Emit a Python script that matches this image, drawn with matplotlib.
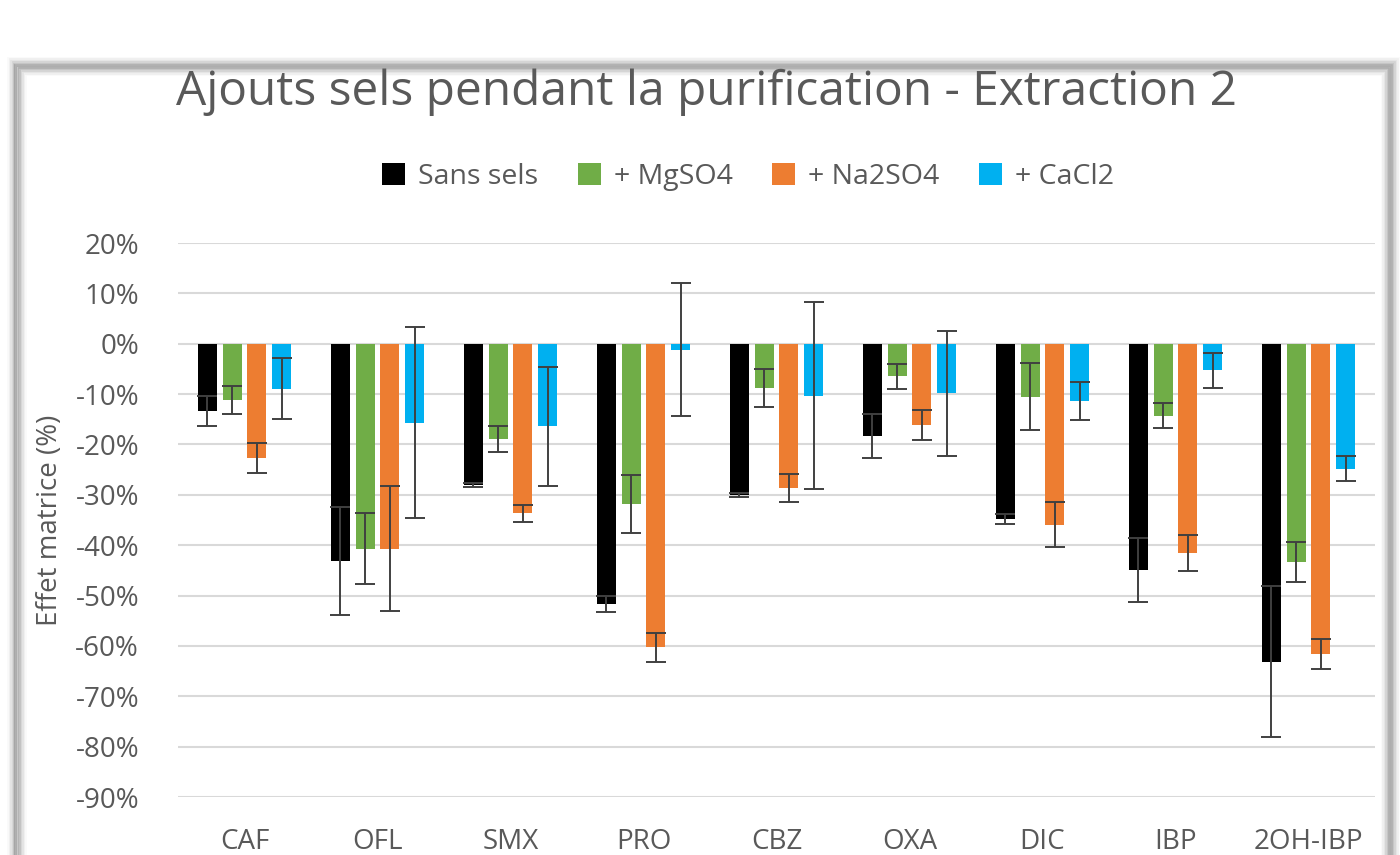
import matplotlib.pyplot as plt
import numpy as np
from matplotlib.patches import Rectangle
from matplotlib.ticker import FuncFormatter

categories = ['CAF', 'OFL', 'SMX', 'PRO', 'CBZ', 'OXA', 'DIC', 'IBP', '2OH-IBP']
series_names = ['Sans sels', '+ MgSO4', '+ Na2SO4', '+ CaCl2']

# effet matrice (%) and error (%)
sans_sels = [-13.4, -43.1, -28.0, -51.7, -30.0, -18.3, -34.8, -44.9, -63.1]
sans_sels_err = [3.0, 10.7, 0.4, 1.6, 0.4, 4.4, 0.9, 6.3, 15.0]
mgso4 = [-11.1, -40.7, -18.9, -31.8, -8.8, -6.5, -10.5, -14.3, -43.4]
mgso4_err = [2.8, 7.1, 2.6, 5.8, 3.8, 2.5, 6.7, 2.5, 4.0]
na2so4 = [-22.7, -40.7, -33.7, -60.3, -28.7, -16.1, -35.9, -41.5, -61.6]
na2so4_err = [2.9, 12.4, 1.7, 2.8, 2.8, 3.0, 4.5, 3.6, 2.9]
cacl2 = [-8.9, -15.7, -16.4, -1.2, -10.3, -9.8, -11.3, -5.3, -24.8]
cacl2_err = [6.0, 19.0, 11.8, 13.2, 18.6, 12.4, 3.8, 3.4, 2.5]

colors = ['#000000', '#70AD47', '#ED7D31', '#00B0F0']
values = [sans_sels, mgso4, na2so4, cacl2]
errors = [sans_sels_err, mgso4_err, na2so4_err, cacl2_err]

plt.rcParams['font.family'] = ['Open Sans', 'DejaVu Sans']
txt = '#595959'

fig = plt.figure(figsize=(14, 8.55), dpi=100)

# blurred shadow frame around the chart
W, H = 1400, 855
for i, a in enumerate([0.04, 0.08, 0.14, 0.22, 0.32, 0.42, 0.42, 0.32, 0.22, 0.14, 0.08, 0.04]):
    off = 8 + i * 1.5
    fig.patches.append(Rectangle((off / W, -0.1), (W - 2 * off + 6) / W, 1.1 - (off + 50) / H,
                                 transform=fig.transFigure, fill=False,
                                 edgecolor='#7a7a7a', alpha=a, linewidth=2.0))

ax = fig.add_axes([178 / W, 1 - 797 / H, (1375 - 178) / W, (797 - 243) / H])

x = np.arange(len(categories))
pitch = 0.186
bw = 0.143
for k in range(4):
    pos = x + (k - 1.5) * pitch
    ax.bar(pos, np.array(values[k]) / 100, width=bw, color=colors[k],
           label=series_names[k], zorder=2)
    ax.errorbar(pos, np.array(values[k]) / 100, yerr=np.array(errors[k]) / 100,
                fmt='none', ecolor='#404040', elinewidth=1.4, capsize=7,
                capthick=1.4, zorder=3)

ax.set_xlim(-0.5, len(categories) - 0.5)
ax.set_ylim(-0.9, 0.2)
ax.set_yticks(np.arange(-0.9, 0.21, 0.1))
ax.yaxis.set_major_formatter(FuncFormatter(lambda v, p: f'{int(round(v * 100))}%'))
ax.set_xticks(x)
ax.set_xticklabels(categories)
ax.grid(axis='y', color='#D9D9D9', linewidth=1.5, zorder=0)
for s in ax.spines.values():
    s.set_visible(False)
ax.tick_params(length=0, labelsize=20, colors=txt)
ax.tick_params(axis='x', pad=22)
ax.tick_params(axis='y', pad=28)

ax.set_ylabel('Effet matrice (%)', fontsize=20, color=txt, labelpad=8)

fig.text(706 / W, 1 - 92 / H, 'Ajouts sels pendant la purification - Extraction 2',
         ha='center', va='center', fontsize=34.5, color=txt)

leg = fig.legend(loc='center', bbox_to_anchor=(748 / W, 1 - 177 / H), ncol=4,
                 frameon=False, fontsize=20.5, handlelength=0.8, handleheight=0.8,
                 handletextpad=0.45, columnspacing=1.4)
for t in leg.get_texts():
    t.set_color(txt)

fig.savefig('out.png', dpi=100, facecolor='white')
